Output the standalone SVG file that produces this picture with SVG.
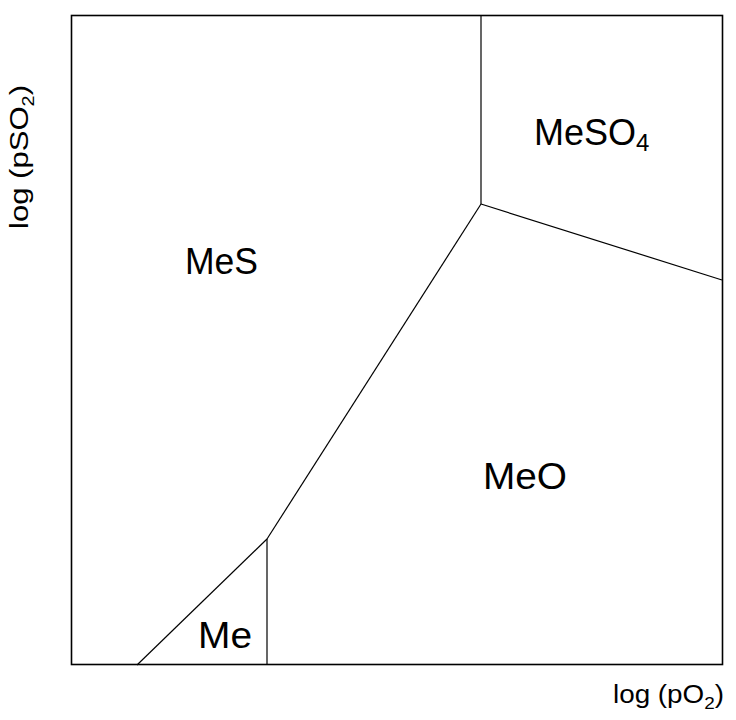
<svg xmlns="http://www.w3.org/2000/svg" width="736" height="720" viewBox="0 0 736 720">
<style>
.lbl{font-family:"Liberation Sans",Arial,sans-serif;fill:#000}
.reg{font-size:36px}
.ax{font-size:25px}
.ln{stroke:#000;stroke-width:1.2;fill:none}
</style>
<rect x="0" y="0" width="736" height="720" fill="#fff"/>
<g id="frame"><rect x="71.5" y="15.5" width="651" height="649" fill="none" stroke="#000" stroke-width="1.6"/></g>
<g id="connectors">
<line class="ln" x1="137" y1="665" x2="267" y2="539"/>
<line class="ln" x1="267" y1="539" x2="267" y2="665"/>
<line class="ln" x1="267" y1="539" x2="481" y2="204"/>
<line class="ln" x1="481" y1="204" x2="481" y2="15"/>
<line class="ln" x1="481" y1="204" x2="722" y2="280"/>
</g>
<g id="MeS"><text class="lbl reg" x="185" y="274" textLength="73" lengthAdjust="spacingAndGlyphs">MeS</text></g>
<g id="MeSO4"><text class="lbl reg" x="534" y="145">MeSO<tspan font-size="24" dy="6">4</tspan></text></g>
<g id="MeO"><text class="lbl reg" x="483" y="489" textLength="84" lengthAdjust="spacingAndGlyphs">MeO</text></g>
<g id="Me"><text class="lbl reg" x="198" y="648" textLength="54" lengthAdjust="spacingAndGlyphs">Me</text></g>
<g id="xlabel"><text class="lbl ax" x="613" y="703" textLength="111" lengthAdjust="spacingAndGlyphs">log (pO<tspan font-size="17" dy="6">2</tspan><tspan dy="-6">)</tspan></text></g>
<g id="ylabel"><text class="lbl ax" font-size="22" transform="translate(28,229) rotate(-90)" textLength="144" lengthAdjust="spacingAndGlyphs">log (pSO<tspan font-size="16" dy="6">2</tspan><tspan dy="-6">)</tspan></text></g>
</svg>
